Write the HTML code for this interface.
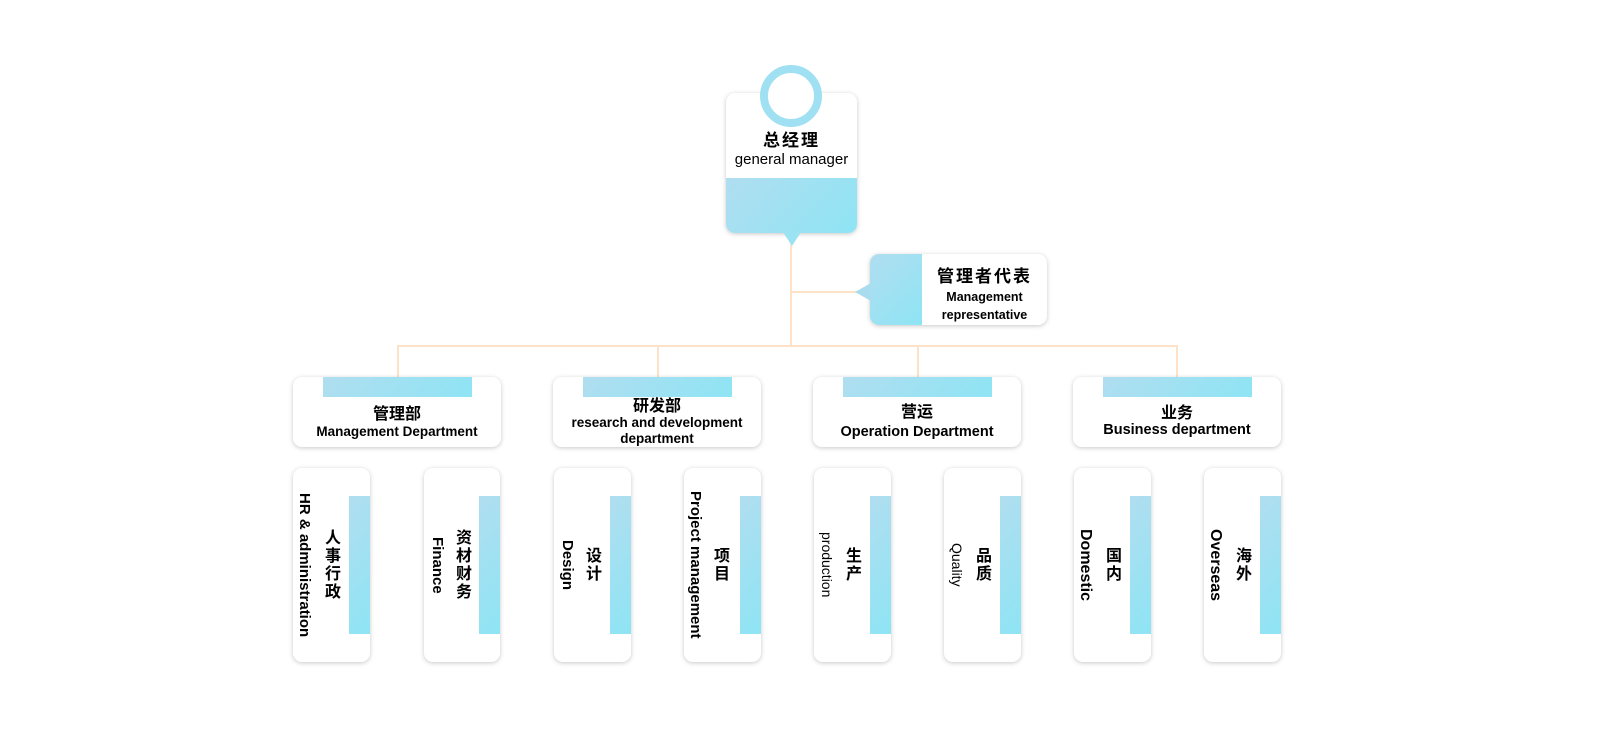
<!DOCTYPE html>
<html><head><meta charset="utf-8"><style>
body{margin:0;width:1602px;height:729px;background:#fff;position:relative;overflow:hidden;font-family:"Liberation Sans","Noto Sans CJK SC",sans-serif;color:#000}
.a{position:absolute}
.ln{position:absolute;background:#fde2c8}
.box{position:absolute;background:#fff;border-radius:9px;box-shadow:0 1px 5px rgba(0,0,0,.22);overflow:hidden}
.blue{background:linear-gradient(135deg,#b0def0,#8ee4f4)}
.dept .tab{position:absolute;left:30px;top:0;width:149px;height:20px}
.dept .t{position:absolute;left:0;right:0;text-align:center;font-weight:bold}
.ch .strip{position:absolute;right:0;top:28px;width:21px;height:138px}
.ch .v{position:absolute;left:0;width:50px;top:0;height:194px;writing-mode:vertical-rl;text-align:center;font-weight:bold;white-space:nowrap}
.ch .v div{display:block}
.ch .v .c{font-size:16px;line-height:26px;letter-spacing:2px}
.ch .v .e{font-size:15px;line-height:22px}
</style></head><body>
<div class="ln" style="left:790px;top:244px;width:2px;height:103px"></div>
<div class="ln" style="left:790px;top:291px;width:68px;height:2px"></div>
<div class="ln" style="left:397px;top:345px;width:781px;height:2px"></div>
<div class="ln" style="left:397px;top:345px;width:2px;height:33px"></div>
<div class="ln" style="left:657px;top:345px;width:2px;height:33px"></div>
<div class="ln" style="left:917px;top:345px;width:2px;height:33px"></div>
<div class="ln" style="left:1176px;top:345px;width:2px;height:33px"></div>

<div class="box" style="left:726px;top:93px;width:131px;height:140px">
  <div class="a blue" style="left:0;top:85px;width:131px;height:55px"></div>
  <div class="a" style="left:0;top:33px;width:131px;text-align:center;font-weight:bold;font-size:17px;letter-spacing:2px">总经理</div>
  <div class="a" style="left:0;top:58px;width:131px;text-align:center;font-size:15px">general manager</div>
</div>
<div class="a" style="left:783px;top:232px;width:0;height:0;border-left:9px solid transparent;border-right:9px solid transparent;border-top:14px solid #9be2f2"></div>
<div class="a" style="left:760px;top:65px;width:46px;height:46px;border-radius:50%;border:8px solid #9fe0f3;background:#fff"></div>

<div class="box" style="left:870px;top:254px;width:177px;height:71px">
  <div class="a blue" style="left:0;top:0;width:52px;height:71px"></div>
  <div class="a" style="left:52px;top:8px;width:125px;text-align:center;font-weight:bold;font-size:17px;letter-spacing:2px">管理者代表</div>
  <div class="a" style="left:52px;top:34px;width:125px;text-align:center;font-weight:bold;font-size:12.5px;line-height:18px">Management<br>representative</div>
</div>
<div class="a" style="left:855px;top:283px;width:0;height:0;border-top:9px solid transparent;border-bottom:9px solid transparent;border-right:16px solid #a9dcef"></div>

<div class="box dept" style="left:293px;top:377px;width:208px;height:70px"><div class="tab blue"></div>
<div class="t" style="top:23px;font-size:16px">管理部</div><div class="t" style="top:47px;font-size:13.5px">Management Department</div></div>
<div class="box dept" style="left:553px;top:377px;width:208px;height:70px"><div class="tab blue"></div>
<div class="t" style="top:20px;font-size:16px;line-height:20px">研发部</div><div class="t" style="top:38px;font-size:13.5px;line-height:16px">research and development<br>department</div></div>
<div class="box dept" style="left:813px;top:377px;width:208px;height:70px"><div class="tab blue"></div>
<div class="t" style="top:21px;font-size:16px">营运</div><div class="t" style="top:47px;font-size:14.5px">Operation Department</div></div>
<div class="box dept" style="left:1073px;top:377px;width:208px;height:70px"><div class="tab blue"></div>
<div class="t" style="top:22px;font-size:16px">业务</div><div class="t" style="top:45px;font-size:14.5px">Business department</div></div>

<div class="box ch" style="left:293px;top:468px;width:77px;height:194px"><div class="strip blue"></div><div class="v"><div class="c">人事行政</div><div class="e" style="line-height:26px">HR &amp; administration</div></div></div>
<div class="box ch" style="left:424px;top:468px;width:76px;height:194px"><div class="strip blue"></div><div class="v"><div class="c">资材财务</div><div class="e">Finance</div></div></div>
<div class="box ch" style="left:554px;top:468px;width:77px;height:194px"><div class="strip blue"></div><div class="v"><div class="c">设计</div><div class="e">Design</div></div></div>
<div class="box ch" style="left:684px;top:468px;width:77px;height:194px"><div class="strip blue"></div><div class="v" style="width:48px"><div class="c">项目</div><div class="e">Project management</div></div></div>
<div class="box ch" style="left:814px;top:468px;width:77px;height:194px"><div class="strip blue"></div><div class="v"><div class="c">生产</div><div class="e" style="font-weight:normal;font-size:14px">production</div></div></div>
<div class="box ch" style="left:944px;top:468px;width:77px;height:194px"><div class="strip blue"></div><div class="v"><div class="c">品质</div><div class="e" style="font-weight:normal;font-size:14px">Quality</div></div></div>
<div class="box ch" style="left:1074px;top:468px;width:77px;height:194px"><div class="strip blue"></div><div class="v"><div class="c">国内</div><div class="e" style="font-size:16px;line-height:26px">Domestic</div></div></div>
<div class="box ch" style="left:1204px;top:468px;width:77px;height:194px"><div class="strip blue"></div><div class="v"><div class="c">海外</div><div class="e" style="font-size:16px;line-height:26px">Overseas</div></div></div>
</body></html>
